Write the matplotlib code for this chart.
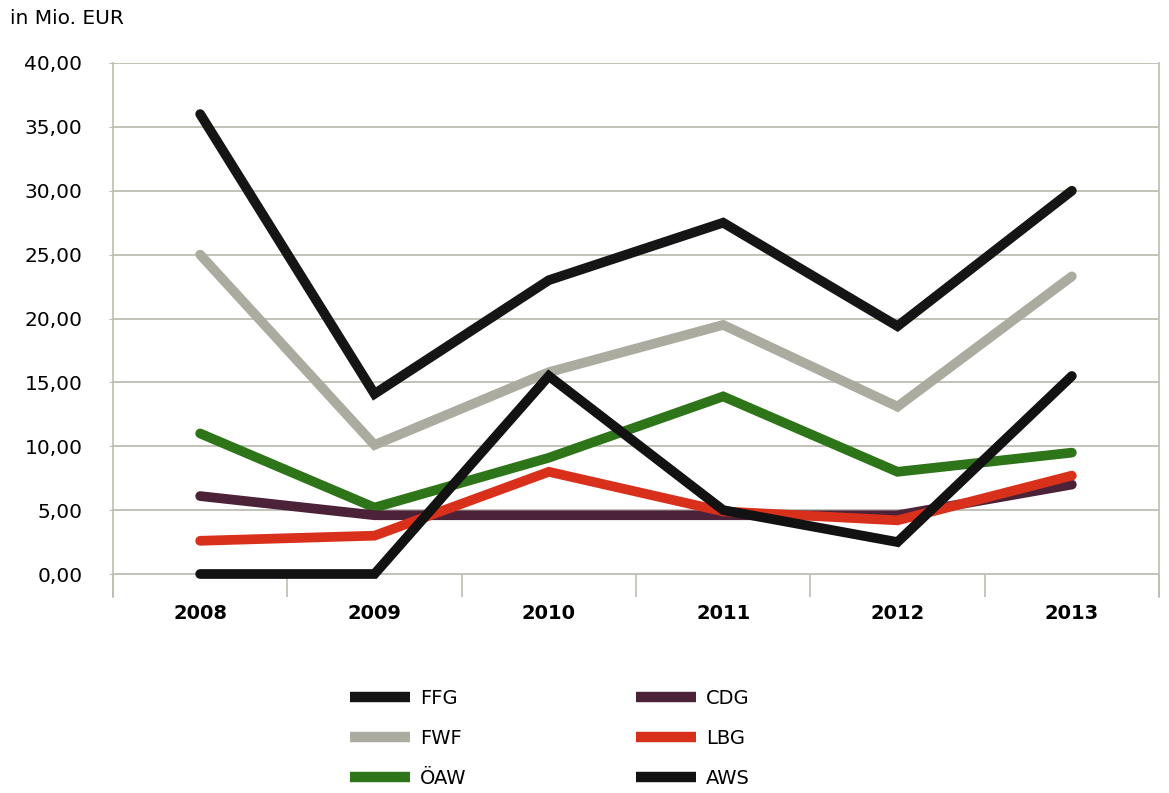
import matplotlib.pyplot as plt

years = ["2008", "2009", "2010", "2011", "2012", "2013"]

ffg = [36.0, 14.1, 23.0, 27.5, 19.4, 30.0]
fwf = [25.0, 10.1, 15.8, 19.5, 13.1, 23.3]
oeaw = [11.0, 5.2, 9.1, 13.9, 8.0, 9.5]
cdg = [6.1, 4.6, 4.6, 4.6, 4.6, 7.0]
lbg = [2.6, 3.0, 8.0, 4.9, 4.2, 7.7]
aws = [0.0, 0.0, 15.5, 5.0, 2.5, 15.5]

names = ["FFG", "FWF", "ÖAW", "CDG", "LBG", "AWS"]
colors = ["#151515", "#abac9f", "#2e7418", "#4b2238", "#d9301b", "#121212"]
series = [ffg, fwf, oeaw, cdg, lbg, aws]

plt.rcParams['font.family'] = ['DejaVu Sans']
grid_col = "#bdbdb2"

fig = plt.figure(figsize=(11.69, 7.93), dpi=100)
ax = fig.add_axes([113 / 1169, 1 - 597 / 793, (1159 - 113) / 1169, (597 - 63) / 793])

x = list(range(len(years)))
for vals, name, col in zip(series, names, colors):
    ax.plot(x, vals, color=col, lw=7.0, label=name,
            solid_capstyle='round', solid_joinstyle='miter')

ax.set_xlim(-0.5, len(years) - 0.5)
ax.set_ylim(-1.8, 40)

yt = [0, 5, 10, 15, 20, 25, 30, 35, 40]
ax.set_yticks(yt)
ax.set_yticklabels([f"{v:.2f}".replace(".", ",") for v in yt], fontsize=14.5)
ax.yaxis.grid(True, color=grid_col, lw=1.3)
ax.tick_params(axis='y', length=3, color=grid_col, pad=19)

# category boundaries as major ticks, labels at centres as minor ticks
ax.set_xticks([i - 0.5 for i in range(len(years) + 1)])
ax.set_xticklabels([])
ax.tick_params(axis='x', which='major', direction='in', length=16.5,
               width=1.2, color=grid_col)
ax.set_xticks(x, minor=True)
ax.set_xticklabels(years, minor=True, fontsize=14, fontweight='bold')
ax.tick_params(axis='x', which='minor', length=0, pad=5)

for s in ['top', 'bottom']:
    ax.spines[s].set_visible(False)
for s in ['left', 'right']:
    ax.spines[s].set_color(grid_col)
    ax.spines[s].set_linewidth(1.2)

fig.text(10 / 1169, 1 - 18 / 793, "in Mio. EUR", fontsize=14.5, va='center', ha='left')

leg = fig.legend(loc='upper left', bbox_to_anchor=(350 / 1169, 1 - 689 / 793),
                 ncol=2, frameon=False, fontsize=14, handlelength=3.1,
                 handletextpad=0.5, columnspacing=8.7, labelspacing=1.08,
                 borderpad=0, borderaxespad=0)
for h in leg.get_lines():
    h.set_linewidth(7.5)
    h.set_solid_capstyle('butt')

fig.savefig("out.png", dpi=100)
